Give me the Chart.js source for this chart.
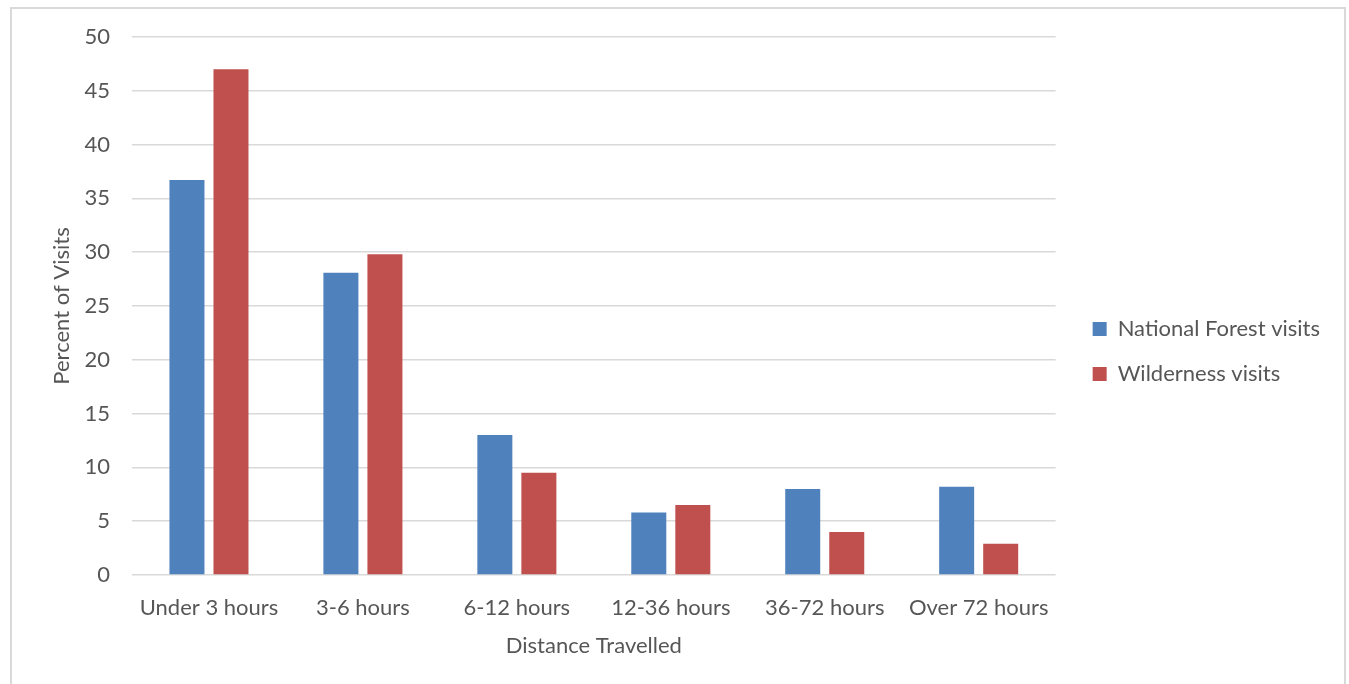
<!DOCTYPE html>
<html>
<head>
<meta charset="utf-8">
<script src="https://cdn.jsdelivr.net/npm/chart.js@4/dist/chart.umd.min.js"></script>
<style>
  html, body { margin: 0; padding: 0; background: #ffffff; }
  #wrap { position: relative; width: 1349px; height: 684px; overflow: hidden; }
  canvas { position: absolute; left: 0; top: 0; }
</style>
</head>
<body>
<div id="wrap"><canvas id="chart" width="1349" height="684"></canvas></div>
<script>
// Travel time categories and share of visits (%)
const categories = ['Under 3 hours', '3-6 hours', '6-12 hours', '12-36 hours', '36-72 hours', 'Over 72 hours'];
const nationalForestVisits = [36.7, 28.1, 13.0, 5.8, 8.0, 8.2];
const wildernessVisits = [47.0, 29.8, 9.5, 6.5, 4.0, 2.9];
const yTicks = [0, 5, 10, 15, 20, 25, 30, 35, 40, 45, 50];

const textColor = '#565656';
const gridColor = '#d9d9d9';
const baseFont = { family: 'Lato, "Open Sans", sans-serif', size: 22 };

// Thin frame around the chart
const framePlugin = {
  id: 'frame',
  beforeDraw(chart) {
    const ctx = chart.ctx;
    ctx.save();
    ctx.strokeStyle = '#d9d9d9';
    ctx.lineWidth = 2;
    ctx.beginPath();
    ctx.moveTo(11, 700);
    ctx.lineTo(11, 8);
    ctx.lineTo(1345, 8);
    ctx.lineTo(1345, 700);
    ctx.stroke();
    ctx.restore();
  }
};

// Nudge the legend block a little right of the plot and slightly up
const legendOffsetPlugin = {
  id: 'legendOffset',
  afterLayout(chart) {
    const lg = chart.legend;
    if (!lg) return;
    lg.left += 14;
    lg.right += 14;
    lg.top -= 9;
    lg.bottom -= 9;
  }
};

new Chart(document.getElementById('chart'), {
  type: 'bar',
  data: {
    labels: categories,
    datasets: [
      { label: 'National Forest visits', data: nationalForestVisits, backgroundColor: '#4F81BD',
        categoryPercentage: 0.572, barPercentage: 0.795 },
      { label: 'Wilderness visits', data: wildernessVisits, backgroundColor: '#C0504D',
        categoryPercentage: 0.572, barPercentage: 0.795 }
    ]
  },
  options: {
    responsive: false,
    animation: false,
    devicePixelRatio: 1,
    layout: { padding: { top: 37, left: 40, right: 33, bottom: 0 } },
    plugins: {
      legend: {
        position: 'right',
        labels: { boxWidth: 14, boxHeight: 14, padding: 23, color: textColor, font: baseFont }
      },
      tooltip: { enabled: false }
    },
    scales: {
      x: {
        grid: { display: false },
        border: { display: false },
        ticks: { color: textColor, font: baseFont, padding: 12, maxRotation: 0 },
        title: { display: true, text: 'Distance Travelled', color: textColor, font: baseFont,
                 padding: { top: 4, bottom: 25 } },
        afterFit(scale) { scale.height = 109; }
      },
      y: {
        min: 0, max: 50,
        afterBuildTicks(scale) { scale.ticks = yTicks.map(v => ({ value: v })); },
        grid: { color: gridColor, lineWidth: 1.5, drawTicks: false },
        border: { display: false },
        ticks: { color: textColor, font: baseFont, padding: 22 },
        title: { display: true, text: 'Percent of Visits', color: textColor, font: baseFont,
                 padding: { top: 9, bottom: 0 } },
        afterFit(scale) { scale.width = 92; }
      }
    }
  },
  plugins: [framePlugin, legendOffsetPlugin]
});
</script>
</body>
</html>
